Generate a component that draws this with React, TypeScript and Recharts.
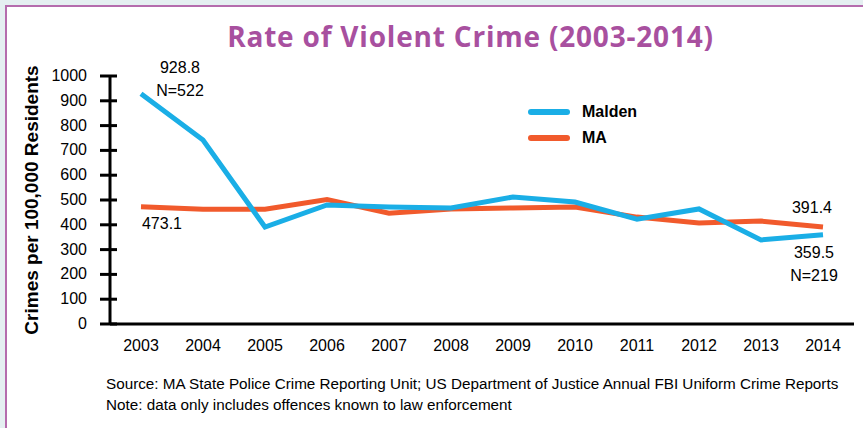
import { Legend, Line, LineChart, XAxis, YAxis } from "recharts";

// Violent crime per 100,000 residents, Malden vs. state average.
const YEARS = [2003, 2004, 2005, 2006, 2007, 2008, 2009, 2010, 2011, 2012, 2013, 2014];
const MALDEN = [928.8, 742, 391, 480, 472, 468, 512, 492, 423, 464, 339, 359.5];
const MA = [473.1, 463, 463, 502, 447, 464, 468, 472, 431, 407, 415, 391.4];
const Y_TICKS = [0, 100, 200, 300, 400, 500, 600, 700, 800, 900, 1000];
// boundaries between the year bands, where the little upward ticks sit
const BAND_EDGES = YEARS.map((y) => y + 0.5);

const MALDEN_NOTES: Record<number, string[]> = { 0: ["928.8", "N=522"], 11: ["359.5", "N=219"] };
const MA_NOTES: Record<number, string[]> = { 0: ["473.1"], 11: ["391.4"] };

const rows = YEARS.map((year, i) => ({ year, malden: MALDEN[i], ma: MA[i] }));

const FONT = "'Liberation Sans', Arial, sans-serif";
const BLUE = "#1aaee6";
const ORANGE = "#f15a2c";
const PURPLE = "#a8509f";

function YTick(props: any) {
  const { x, y, payload } = props;
  return (
    <g>
      <line x1={x + 23} x2={x + 30} y1={y} y2={y} stroke="#000" strokeWidth={3} />
      <text x={x} y={y} dy={5} textAnchor="end" fontSize={16} fill="#000" fontFamily={FONT}>
        {payload.value}
      </text>
    </g>
  );
}

function noteLabel(notes: Record<number, string[]>, dx: number[], dy: number[]) {
  return (props: any) => {
    const { x, y, index } = props;
    const lines = notes[index];
    if (!lines) return null;
    const side = index === 0 ? 0 : 1;
    return (
      <g>
        {lines.map((t, k) => (
          <text
            key={k}
            x={x + dx[side]}
            y={y + dy[side] + k * 23}
            dy={5}
            textAnchor="middle"
            fontSize={16}
            fill="#000"
            fontFamily={FONT}
          >
            {t}
          </text>
        ))}
      </g>
    );
  };
}

function LegendBox() {
  const items = [
    { name: "Malden", color: BLUE },
    { name: "MA", color: ORANGE },
  ];
  return (
    <div>
      {items.map((it) => (
        <div key={it.name} style={{ display: "flex", alignItems: "center", height: 26 }}>
          <span style={{ width: 42, height: 6, borderRadius: 3, background: it.color, marginRight: 12 }} />
          <span style={{ fontFamily: FONT, fontWeight: 700, fontSize: 16, color: "#000" }}>{it.name}</span>
        </div>
      ))}
    </div>
  );
}

export default function App() {
  return (
    <div
      style={{
        position: "absolute",
        left: 0,
        top: 0,
        width: 863,
        height: 428,
        overflow: "hidden",
        background: "#e5eff1",
        fontFamily: FONT,
      }}
    >
      <div
        style={{
          position: "absolute",
          left: 5,
          top: 5,
          width: 900,
          height: 500,
          border: "2px solid #b56cad",
          background: "#fff",
        }}
      />
      <div
        style={{
          position: "absolute",
          left: 0,
          width: 863,
          top: 18,
          textAlign: "center",
          paddingLeft: 78,
          boxSizing: "border-box",
          fontFamily: "'Open Sans', sans-serif",
          fontWeight: 700,
          fontSize: 28,
          letterSpacing: 0.8,
          lineHeight: "36px",
          color: PURPLE,
        }}
      >
        Rate of Violent Crime (2003-2014)
      </div>
      <div style={{ position: "absolute", left: 0, top: 0 }}>
        <LineChart width={863} height={428} data={rows} margin={{ top: 76, right: 9, left: 0, bottom: 74 }}>
          <XAxis
            xAxisId="edges"
            dataKey="year"
            type="number"
            domain={[2002.5, 2014.5]}
            ticks={BAND_EDGES}
            height={0}
            axisLine={false}
            tickSize={-7}
            tickLine={{ stroke: "#000", strokeWidth: 3 }}
            tick={() => <g />}
            interval={0}
          />
          <XAxis
            xAxisId="years"
            dataKey="year"
            type="number"
            domain={[2002.5, 2014.5]}
            ticks={YEARS}
            height={30}
            interval={0}
            axisLine={{ stroke: "#000", strokeWidth: 3 }}
            tickLine={false}
            tickSize={0}
            tickMargin={16}
            tick={{ fill: "#000", fontSize: 16, fontFamily: FONT }}
          />
          <YAxis
            width={110}
            domain={[0, 1000]}
            ticks={Y_TICKS}
            interval={0}
            axisLine={{ stroke: "#000", strokeWidth: 3 }}
            tickLine={{ stroke: "#000", strokeWidth: 3 }}
            tickSize={10}
            tickMargin={13}
            tick={<YTick />}
            label={{
              value: "Crimes per 100,000 Residents",
              angle: -90,
              position: "insideLeft",
              dx: 26,
              dy: 0,
              style: { textAnchor: "middle", fontSize: 19, fontWeight: 700, fill: "#000", fontFamily: FONT },
            }}
          />
          <Legend
            layout="vertical"
            align="center"
            verticalAlign="middle"
            wrapperStyle={{ left: 528, top: 99, width: 140 }}
            content={<LegendBox />}
          />
          <Line
            xAxisId="years"
            dataKey="ma"
            name="MA"
            stroke={ORANGE}
            strokeWidth={5}
            dot={false}
            isAnimationActive={false}
            label={noteLabel(MA_NOTES, [21, -11], [17, -19])}
          />
          <Line
            xAxisId="years"
            dataKey="malden"
            name="Malden"
            stroke={BLUE}
            strokeWidth={5}
            dot={false}
            isAnimationActive={false}
            label={noteLabel(MALDEN_NOTES, [39, -9], [-26, 18])}
          />
        </LineChart>
      </div>
      <div
        style={{
          position: "absolute",
          left: 106,
          top: 373,
          fontFamily: FONT,
          fontSize: 15.25,
          lineHeight: "21px",
          color: "#000",
          whiteSpace: "nowrap",
        }}
      >
        Source: MA State Police Crime Reporting Unit; US Department of Justice Annual FBI Uniform Crime Reports
        <br />
        Note: data only includes offences known to law enforcement
      </div>
    </div>
  );
}
